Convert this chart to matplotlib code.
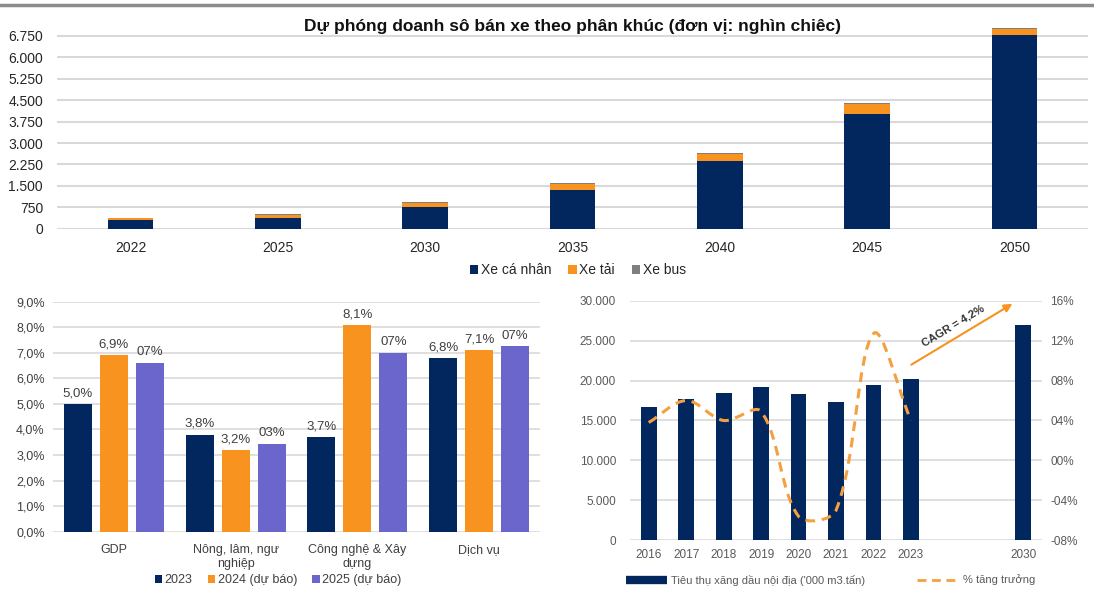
import numpy as np
import matplotlib
matplotlib.use("Agg")
import matplotlib.pyplot as plt
from matplotlib.path import Path
from matplotlib.patches import PathPatch
from matplotlib.lines import Line2D
from matplotlib.ticker import FuncFormatter, FixedLocator

plt.rcParams['font.family'] = ['Liberation Sans', 'DejaVu Sans']

# ---------------- data ----------------
years_top = ["2022", "2025", "2030", "2035", "2040", "2045", "2050"]
xe_ca_nhan = [290, 385, 750, 1355, 2360, 4020, 6800]
xe_tai = [70, 100, 155, 205, 245, 350, 200]
xe_bus = [15, 30, 45, 45, 40, 35, 30]
top_ticks = [0, 750, 1500, 2250, 3000, 3750, 4500, 5250, 6000, 6750]

sectors = ["GDP", "Nông, lâm, ngư\nnghiệp", "Công nghệ & Xây\ndựng", "Dịch vụ"]
growth_2023 = [5.0, 3.8, 3.7, 6.8]
growth_2024 = [6.9, 3.2, 8.1, 7.1]
growth_2025 = [6.6, 3.45, 7.0, 7.25]
growth_labels = ["2023", "2024 (dự báo)", "2025 (dự báo)"]

fuel_years = ["2016", "2017", "2018", "2019", "2020", "2021", "2022", "2023", "", "", "2030"]
fuel_consumption = [16700, 17700, 18400, 19250, 18300, 17300, 19500, 20250, np.nan, np.nan, 26900]
fuel_growth = [0.038, 0.060, 0.040, 0.049, -0.056, -0.050, 0.127, 0.040]
cagr_text = "CAGR = 4,2%"

# ---------------- style ----------------
NAVY = "#02275F"
ORANGE = "#F7931E"
PURPLE = "#6B66CC"
GRAY = "#7F7F7F"
GRID = "#D9D9D9"
TXT = "#262626"

W, H = 1094, 589
fig = plt.figure(figsize=(W / 100, H / 100), dpi=100)


def fx(px):
    return px / W


def fy(py):
    return 1 - py / H


def axes_px(left, top, right, bottom):
    return fig.add_axes([fx(left), fy(bottom), (right - left) / W, (bottom - top) / H])


def dot_thousands(v, _pos=None):
    return f"{int(round(v)):,}".replace(",", ".")


# header rule
fig.add_artist(Line2D([0, 1], [fy(5), fy(5)], color="#8C8C8C", lw=2.5))

# ---------------- top: stacked bars ----------------
ax1 = axes_px(57, 26.0, 1088, 228.7)
x1 = np.arange(len(years_top))
b1 = ax1.bar(x1, xe_ca_nhan, width=0.31, color=NAVY, zorder=3)
b2 = ax1.bar(x1, xe_tai, width=0.31, bottom=xe_ca_nhan, color=ORANGE, zorder=3)
b3 = ax1.bar(x1, xe_bus, width=0.31, bottom=np.add(xe_ca_nhan, xe_tai), color=GRAY, zorder=3)
ax1.set_xlim(-0.5, len(years_top) - 0.5)
ax1.set_ylim(0, 7100)
ax1.yaxis.set_major_locator(FixedLocator(top_ticks))
ax1.yaxis.set_major_formatter(FuncFormatter(dot_thousands))
ax1.set_xticks(x1, years_top)
ax1.grid(axis="y", color=GRID, lw=1.5, zorder=0)
for s in ax1.spines.values():
    s.set_visible(False)
ax1.tick_params(length=0, labelsize=10, colors=TXT)
ax1.tick_params(axis="y", pad=10)
ax1.tick_params(axis="x", pad=9)
fig.text(fx(573), fy(26), "Dự phóng doanh sô bán xe theo phân khúc (đơn vị: nghìn chiêc)",
         ha="center", va="center", fontsize=12.5, fontweight="bold", color="#111111")
fig.legend([b1, b2, b3], ["Xe cá nhân", "Xe tải", "Xe bus"], loc="center",
           bbox_to_anchor=(fx(578), fy(270)), ncol=3, frameon=False, fontsize=10,
           handlelength=0.6, handleheight=0.6, handletextpad=0.2, columnspacing=1.2,
           labelcolor=TXT)

# ---------------- bottom left: growth by sector ----------------
ax2 = axes_px(53, 301.7, 540, 531.7)
x2 = np.arange(len(sectors))
off, bw = 0.296, 0.23
r1 = ax2.bar(x2 - off, growth_2023, bw, color=NAVY, zorder=3)
r2 = ax2.bar(x2, growth_2024, bw, color=ORANGE, zorder=3)
r3 = ax2.bar(x2 + off, growth_2025, bw, color=PURPLE, zorder=3)
ax2.set_xlim(-0.5, len(sectors) - 0.5)
ax2.set_ylim(0, 9.0)
ax2.set_yticks(np.arange(0, 9.5, 1.0))
ax2.yaxis.set_major_formatter(FuncFormatter(lambda v, p: f"{v:.1f}".replace(".", ",") + "%"))
ax2.set_xticks(x2, sectors)
ax2.grid(axis="y", color=GRID, lw=1.2, zorder=0)
for s in ax2.spines.values():
    s.set_visible(False)
ax2.tick_params(length=0, labelsize=9, colors="#404040")
ax2.tick_params(axis="y", pad=6)
ax2.tick_params(axis="x", pad=9)
for xs, vals, fmt in [(x2 - off, growth_2023, "dec"), (x2, growth_2024, "dec"), (x2 + off, growth_2025, "int")]:
    for xv, v in zip(xs, vals):
        lab = (f"{v:.1f}".replace(".", ",") + "%") if fmt == "dec" else f"{round(v):02d}%"
        ax2.text(xv, v + 0.18, lab, ha="center", va="bottom", fontsize=9.5, color="#404040")
fig.legend([r1, r2, r3], growth_labels, loc="center", bbox_to_anchor=(fx(278), fy(580)),
           ncol=3, frameon=False, fontsize=9, handlelength=0.6, handleheight=0.6,
           handletextpad=0.2, columnspacing=1.2, labelcolor="#404040")

# ---------------- bottom right: fuel consumption ----------------
ax3 = axes_px(630, 300.7, 1042, 540.3)
x3 = np.arange(len(fuel_years))
ax3.bar(x3, fuel_consumption, width=0.42, color=NAVY, zorder=3)
ax3.set_xlim(-0.5, len(fuel_years) - 0.5)
ax3.set_ylim(0, 30000)
ax3.set_yticks(np.arange(0, 30001, 5000))
ax3.yaxis.set_major_formatter(FuncFormatter(dot_thousands))
ax3.set_xticks(x3, fuel_years)
ax3.grid(axis="y", color=GRID, lw=1.2, zorder=0)
for s in ax3.spines.values():
    s.set_visible(False)
ax3.tick_params(length=0, labelsize=8.5, colors="#595959")
ax3.tick_params(axis="y", pad=10)
ax3.tick_params(axis="x", pad=6)

ax4 = ax3.twinx()
ax4.set_ylim(-0.08, 0.16)
ax4.set_yticks(np.arange(-0.08, 0.161, 0.04))
ax4.yaxis.set_major_formatter(FuncFormatter(
    lambda v, p: ("-" if v < -1e-9 else "") + f"{abs(round(v * 100)):02d}%"))
for s in ax4.spines.values():
    s.set_visible(False)
ax4.tick_params(length=0, labelsize=8.5, colors="#595959", pad=6)


def smooth_path(xs, ys, sx, sy, t=1 / 3):
    """Bezier smoothing with tangents scaled by neighbouring segment lengths."""
    P = np.column_stack([np.asarray(xs, float) * sx, np.asarray(ys, float) * sy])
    n = len(P)
    verts, codes = [P[0]], [Path.MOVETO]

    def ctrl(i):
        a, b = P[max(i - 1, 0)], P[min(i + 1, n - 1)]
        T = b - a
        d1 = np.linalg.norm(P[i] - a)
        d2 = np.linalg.norm(b - P[i])
        tot = d1 + d2
        return P[i] - T * t * d1 / tot, P[i] + T * t * d2 / tot

    for i in range(n - 1):
        _, c_out = ctrl(i)
        c_in, _ = ctrl(i + 1)
        verts += [c_out, c_in, P[i + 1]]
        codes += [Path.CURVE4] * 3
    V = np.array(verts)
    V[:, 0] /= sx
    V[:, 1] /= sy
    return Path(V, codes)


gx = np.arange(len(fuel_growth))
px_per_cat = 412 / len(fuel_years)
px_per_unit = 239.6 / 0.24
ax4.add_patch(PathPatch(smooth_path(gx, fuel_growth, px_per_cat, px_per_unit), fill=False,
                        edgecolor="#F5A040", lw=2.2, linestyle=(0, (3.2, 2.2)), zorder=4))

ax4.annotate("", xy=(0.934, 0.993), xytext=(0.677, 0.727), xycoords="axes fraction",
             textcoords="axes fraction", annotation_clip=False,
             arrowprops=dict(arrowstyle="-|>", color=ORANGE, lw=1.5, mutation_scale=12))
ax4.text(0.784, 0.895, cagr_text, transform=ax4.transAxes, rotation=31, ha="center",
         va="center", fontsize=8, fontweight="bold", color="#333333")

# legend for the fuel chart
fig.add_artist(Line2D([fx(626), fx(667)], [fy(580), fy(580)], color=NAVY, lw=6,
                      solid_capstyle="butt"))
fig.text(fx(671), fy(580), "Tiêu thụ xăng dầu nội địa ('000 m3.tấn)", ha="left",
         va="center", fontsize=8, color="#595959")
fig.add_artist(Line2D([fx(917), fx(960)], [fy(580), fy(580)], color="#F5A040", lw=2,
                      linestyle=(0, (3.2, 2.0))))
fig.text(fx(963), fy(580), "% tăng trưởng", ha="left", va="center", fontsize=8,
         color="#595959")

fig.savefig("out.png", dpi=100)
